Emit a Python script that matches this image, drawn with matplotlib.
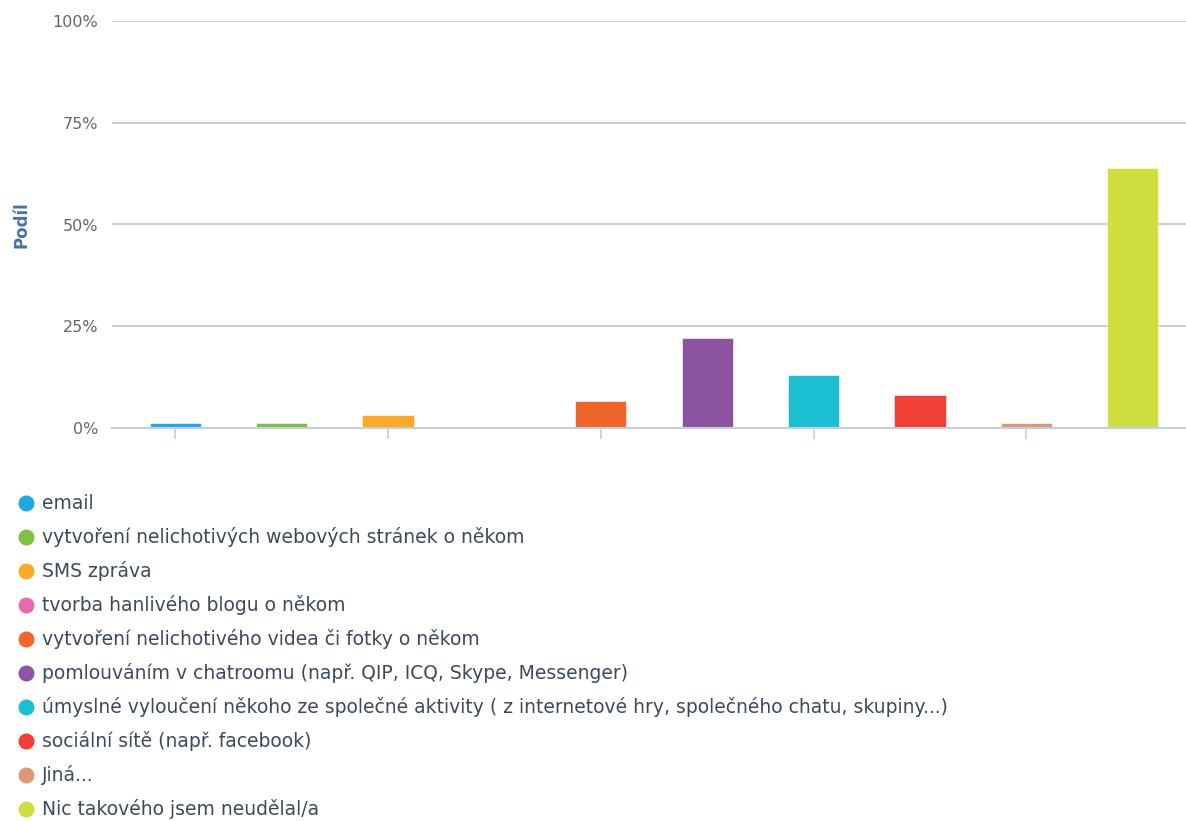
import matplotlib
matplotlib.use("Agg")
import matplotlib.pyplot as plt
from matplotlib.lines import Line2D
from matplotlib.ticker import FuncFormatter

# Chart data
categories = [
    "email",
    "vytvoření nelichotivých webových stránek o někom",
    "SMS zpráva",
    "tvorba hanlivého blogu o někom",
    "vytvoření nelichotivého videa či fotky o někom",
    "pomlouváním v chatroomu (např. QIP, ICQ, Skype, Messenger)",
    "úmyslné vyloučení někoho ze společné aktivity ( z internetové hry, společného chatu, skupiny...)",
    "sociální sítě (např. facebook)",
    "Jiná...",
    "Nic takového jsem neudělal/a",
]
shares = [1.2, 1.2, 3.3, 0.0, 6.7, 22.0, 13.0, 8.0, 1.2, 64.0]
colors = ["#1fa8e0", "#7dc142", "#fba927", "#e86aae", "#f0652a",
          "#8c54a1", "#1cbfd1", "#ef3f37", "#d99979", "#cfdd3f"]
y_ticks = [0, 25, 50, 75, 100]

W, H = 1186, 821
fig = plt.figure(figsize=(W / 100, H / 100), dpi=100)
ax = fig.add_axes([112 / W, 1 - 428 / H, 1074 / W, 407 / H])

x = list(range(len(categories)))
ax.bar(x, shares, width=0.48, color=colors, edgecolor="white", linewidth=0.4, zorder=3)

ax.set_xlim(-0.594, len(categories) - 0.5)
ax.set_ylim(0, 100)
ax.set_yticks(y_ticks)
ax.yaxis.set_major_formatter(FuncFormatter(lambda v, _: f"{v:.0f}%"))
ax.grid(axis="y", color="#c8c8c8", linewidth=1.3, zorder=0)
ax.set_xticks(x[::2])
ax.set_xticklabels([])
ax.tick_params(axis="x", length=8, width=1.2, color="#c0d0e0", direction="out")
ax.tick_params(axis="y", length=0, labelsize=11.5, labelcolor="#666666", pad=10)

for side in ["top", "right", "left"]:
    ax.spines[side].set_visible(False)
ax.spines["bottom"].set_color("#c0d0e0")
ax.spines["bottom"].set_linewidth(1.5)
ax.spines["bottom"].set_zorder(4)

ax.set_ylabel("Podíl", fontsize=12, fontweight="bold", color="#4572a7")
ax.yaxis.set_label_coords(30 / W, 1 - 225 / H, transform=fig.transFigure)

# Legend as a vertical list below the plot
top_y = 503
step = 34
for i, (label, c) in enumerate(zip(categories, colors)):
    yy = 1 - (top_y + i * step) / H
    fig.add_artist(Line2D([26 / W], [yy], transform=fig.transFigure, marker="o",
                          markersize=10.5, color=c, linestyle="none"))
    fig.text(42 / W, yy, label, fontsize=13.5, color="#3d4a5c", va="center", ha="left")

fig.savefig("out.png", dpi=100)
